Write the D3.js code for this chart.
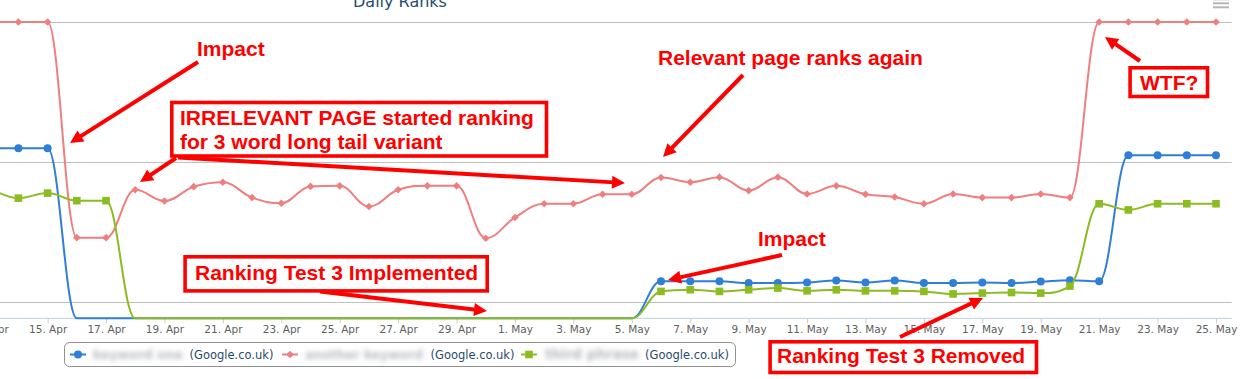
<!DOCTYPE html>
<html>
<head>
<meta charset="utf-8">
<script src="https://cdn.jsdelivr.net/npm/d3@7"></script>
<style>
  html, body { margin: 0; padding: 0; background: #ffffff; }
  svg { display: block; }
</style>
</head>
<body>
<svg id="chart" width="1241" height="379"></svg>
<script>
// ---------------- DATA ----------------
const days = [
  "2014-04-13","2014-04-14","2014-04-15","2014-04-16","2014-04-17","2014-04-18","2014-04-19",
  "2014-04-20","2014-04-21","2014-04-22","2014-04-23","2014-04-24","2014-04-25","2014-04-26",
  "2014-04-27","2014-04-28","2014-04-29","2014-04-30","2014-05-01","2014-05-02","2014-05-03",
  "2014-05-04","2014-05-05","2014-05-06","2014-05-07","2014-05-08","2014-05-09","2014-05-10",
  "2014-05-11","2014-05-12","2014-05-13","2014-05-14","2014-05-15","2014-05-16","2014-05-17",
  "2014-05-18","2014-05-19","2014-05-20","2014-05-21","2014-05-22","2014-05-23","2014-05-24",
  "2014-05-25"
];
// rank-position values (top of chart = 0, bottom of chart = not ranking)
const NR = 105.8;
const blueValues = [
  45.1, 45.1, 45.1, NR, NR, NR, NR, NR, NR, NR, NR, NR, NR, NR, NR, NR, NR, NR, NR, NR, NR, NR, NR,
  92.6, 92.6, 92.6, 93.2, 93.2, 93.0, 92.3, 93.0, 92.3, 93.2, 93.2, 93.0, 93.2, 92.7, 92.2, 92.6,
  47.6, 47.6, 47.6, 47.6
];
const redValues = [
  0, 0, 0, 77.0, 77.0, 59.9, 63.9, 58.8, 57.2, 62.7, 64.7, 58.7, 58.5, 65.9, 59.9, 58.5, 58.5, 77.2,
  69.8, 64.9, 64.9, 61.5, 61.5, 55.5, 57.2, 55.4, 60.2, 55.4, 61.4, 58.5, 61.5, 62.5, 64.9, 61.4,
  62.7, 62.7, 61.4, 62.7, 0, 0, 0, 0, 0
];
const greenValues = [
  59.2, 62.9, 61.1, 63.8, 63.8, NR, NR, NR, NR, NR, NR, NR, NR, NR, NR, NR, NR, NR, NR, NR, NR, NR, NR,
  96.2, 95.6, 96.2, 95.6, 95.0, 96.0, 95.6, 96.0, 96.0, 96.2, 97.1, 96.8, 96.6, 96.8, 94.3, 64.9,
  67.1, 64.9, 64.9, 64.9
];
const seriesNames = ["keyword one", "another keyword", "third phrase"];
const seriesSuffix = "(Google.co.uk)";
const gridValues = [0, 50, 100];
const tickDays = [
  "2014-04-13","2014-04-15","2014-04-17","2014-04-19","2014-04-21","2014-04-23","2014-04-25",
  "2014-04-27","2014-04-29","2014-05-01","2014-05-03","2014-05-05","2014-05-07","2014-05-09",
  "2014-05-11","2014-05-13","2014-05-15","2014-05-17","2014-05-19","2014-05-21","2014-05-23",
  "2014-05-25"
];
const titleText = "Daily Ranks";

// ---------------- LAYOUT ----------------
const W = 1241, H = 379;
const plotLeft = -14, plotRight = 1231.7, plotTop = 22, plotBottom = 318.3;
const parse = d3.utcParse("%Y-%m-%d");
const dates = days.map(parse);
const x = d3.scaleUtc().domain([dates[0], dates[dates.length - 1]]).range([-10.8, 1216]);
const y = d3.scaleLinear().domain([0, NR]).range([plotTop, plotBottom]);

const colors = { blue: "#2f7ed8", red: "#ef7f7f", green: "#8bbc21" };
const RED = "#ff0000";

const svg = d3.select("#chart");
svg.append("rect").attr("width", W).attr("height", H).attr("fill", "#fff");

const defs = svg.append("defs");
defs.append("filter").attr("id", "blur").attr("x", "-10%").attr("y", "-60%").attr("width", "120%").attr("height", "220%")
  .append("feGaussianBlur").attr("stdDeviation", 2.6);

// Title (cropped at top)
svg.append("text").attr("x", 400).attr("y", 7).attr("text-anchor", "middle")
  .attr("font-family", "DejaVu Sans, sans-serif").attr("font-size", 16).attr("fill", "#274b6d")
  .text(titleText);

// Export menu icon
const menu = svg.append("g").attr("stroke", "#b5b5b5").attr("stroke-width", 2);
[-0.7, 3.3, 7.3].forEach(v => menu.append("line").attr("x1", 1213).attr("x2", 1229).attr("y1", v).attr("y2", v));

// Gridlines
svg.append("g").selectAll("line").data(gridValues).join("line")
  .attr("x1", plotLeft).attr("x2", plotRight)
  .attr("y1", d => Math.round(y(d)) + 0.5).attr("y2", d => Math.round(y(d)) + 0.5)
  .attr("stroke", "#c0c0c0").attr("stroke-width", 1);

// X axis
const xAxis = d3.axisBottom(x).tickValues(tickDays.map(parse))
  .tickFormat(d3.utcFormat("%-d. %b")).tickSize(5).tickSizeOuter(0).tickPadding(2);
const gx = svg.append("g").attr("transform", `translate(0,${plotBottom})`).call(xAxis);
gx.select(".domain").remove();
gx.selectAll(".tick line").attr("stroke", "#c0d0e0");
gx.selectAll(".tick text").attr("font-family", "DejaVu Sans, sans-serif").attr("font-size", 10.5).attr("fill", "#606060");
svg.append("line").attr("x1", plotLeft).attr("x2", plotRight)
  .attr("y1", plotBottom).attr("y2", plotBottom).attr("stroke", "#c0d0e0").attr("stroke-width", 1);

// Highcharts-like spline curve for d3.line
function HCSpline(context) { this._context = context; }
HCSpline.prototype = {
  areaStart() {}, areaEnd() {},
  lineStart() { this._p = []; },
  point(px, py) { this._p.push([+px, +py]); },
  lineEnd() {
    const p = this._p, c = this._context, s = 1.5, dn = s + 1, n = p.length;
    if (!n) return;
    const L = [], R = [];
    for (let i = 0; i < n; i++) {
      const [px, py] = p[i];
      if (i > 0 && i < n - 1) {
        const [lx, ly] = p[i - 1], [nx, ny] = p[i + 1];
        const lcx = (s * px + lx) / dn, rcx = (s * px + nx) / dn;
        let lcy = (s * py + ly) / dn, rcy = (s * py + ny) / dn;
        const corr = ((rcy - lcy) * (rcx - px)) / (rcx - lcx) + py - rcy;
        lcy += corr; rcy += corr;
        if (lcy > ly && lcy > py) { lcy = Math.max(ly, py); rcy = 2 * py - lcy; }
        else if (lcy < ly && lcy < py) { lcy = Math.min(ly, py); rcy = 2 * py - lcy; }
        if (rcy > ny && rcy > py) { rcy = Math.max(ny, py); lcy = 2 * py - rcy; }
        else if (rcy < ny && rcy < py) { rcy = Math.min(ny, py); lcy = 2 * py - rcy; }
        L[i] = [lcx, lcy]; R[i] = [rcx, rcy];
      } else { L[i] = [px, py]; R[i] = [px, py]; }
    }
    c.moveTo(p[0][0], p[0][1]);
    for (let i = 1; i < n; i++) c.bezierCurveTo(R[i - 1][0], R[i - 1][1], L[i][0], L[i][1], p[i][0], p[i][1]);
  }
};
const curveHC = ctx => new HCSpline(ctx);

const line = d3.line().x(d => x(d.date)).y(d => y(d.value)).curve(curveHC);
const series = [
  { key: "blue", values: blueValues, marker: "circle" },
  { key: "red", values: redValues, marker: "diamond" },
  { key: "green", values: greenValues, marker: "square" }
];
const symbolPath = {
  circle: d3.symbol().type(d3.symbolCircle).size(Math.PI * 16)(),
  diamond: "M0,-3.8L3.8,0L0,3.8L-3.8,0Z",
  square: "M-3.8,-3.8H3.8V3.8H-3.8Z"
};

const plotG = svg.append("g");
series.forEach(s => {
  const pts = s.values.map((v, i) => ({ date: dates[i], value: v }));
  const g = plotG.append("g");
  g.append("path").attr("d", line(pts)).attr("fill", "none")
    .attr("stroke", colors[s.key]).attr("stroke-width", 2).attr("stroke-linejoin", "round");
  g.selectAll("path.m").data(pts.filter(d => d.value < NR)).join("path").attr("class", "m")
    .attr("d", symbolPath[s.marker])
    .attr("transform", d => `translate(${x(d.date)},${y(d.value)})`)
    .attr("fill", colors[s.key]);
});

// Legend
const lg = svg.append("g");
lg.append("rect").attr("x", 64.5).attr("y", 342.5).attr("width", 671).attr("height", 24).attr("rx", 5)
  .attr("fill", "#fff").attr("stroke", "#909090").attr("stroke-width", 1);
const legendItems = [
  { s: series[0], cx: 78, nameX: 93, nameW: 90, sufX: 189.5 },
  { s: series[1], cx: 290, nameX: 305, nameW: 118, sufX: 430.5 },
  { s: series[2], cx: 529, nameX: 545, nameW: 94, sufX: 645 }
];
legendItems.forEach((it, i) => {
  const cy = 354.5;
  lg.append("line").attr("x1", it.cx - 8).attr("x2", it.cx + 8).attr("y1", cy).attr("y2", cy)
    .attr("stroke", colors[it.s.key]).attr("stroke-width", 2);
  lg.append("path").attr("d", symbolPath[it.s.marker]).attr("transform", `translate(${it.cx},${cy})`)
    .attr("fill", colors[it.s.key]);
  const t = lg.append("text").attr("x", it.nameX).attr("y", 359).attr("font-family", "DejaVu Sans, sans-serif")
    .attr("font-size", 14).attr("font-weight", "bold").attr("fill", "#b4b9c2").attr("filter", "url(#blur)")
    .text(seriesNames[i]);
  // fit the blurred name to its slot
  const w = t.node().getComputedTextLength();
  t.attr("font-size", (14 * it.nameW / w).toFixed(2));
  lg.append("text").attr("x", it.sufX).attr("y", 358.5).attr("font-family", "DejaVu Sans, sans-serif")
    .attr("font-size", 11.5).attr("fill", "#274b6d").text(seriesSuffix);
});

// ---------------- ANNOTATIONS ----------------
const ann = svg.append("g").attr("font-family", "Liberation Sans, Arial, sans-serif")
  .attr("font-weight", "bold").attr("font-size", 21);

function arrow(x1, y1, x2, y2) {
  const dx = x2 - x1, dy = y2 - y1, len = Math.hypot(dx, dy);
  const ux = dx / len, uy = dy / len, hl = 13, hw = 6.5;
  const bx = x2 - ux * hl, by = y2 - uy * hl;
  ann.append("line").attr("x1", x1).attr("y1", y1).attr("x2", bx + ux * 2).attr("y2", by + uy * 2)
    .attr("stroke", RED).attr("stroke-width", 4);
  ann.append("path")
    .attr("d", `M${x2},${y2}L${bx - uy * hw},${by + ux * hw}L${bx + uy * hw},${by - ux * hw}Z`)
    .attr("fill", RED);
}
function box(x0, y0, w, h) {
  ann.append("rect").attr("x", x0).attr("y", y0).attr("width", w).attr("height", h)
    .attr("fill", "#fff").attr("stroke", RED).attr("stroke-width", 3.6);
}
function label(tx, ty, t) {
  ann.append("text").attr("x", tx).attr("y", ty).attr("fill", RED).text(t);
}

// Impact (left)
label(197, 56, "Impact");
arrow(198, 62, 70, 143);
// Irrelevant page box
box(171.8, 102.5, 374.7, 53.5);
label(180, 125, "IRRELEVANT PAGE started ranking");
label(180, 149, "for 3 word long tail variant");
arrow(176, 158, 140, 182);
arrow(178, 157.5, 625, 183);
// Relevant page ranks again
label(658, 65, "Relevant page ranks again");
arrow(743, 75, 663, 157);
// Impact (right)
label(758, 246, "Impact");
arrow(782, 255, 668, 280);
// Ranking Test 3 Implemented
box(185.1, 256.8, 302.1, 34.1);
label(195, 279.5, "Ranking Test 3 Implemented");
arrow(320, 291.5, 487, 311);
// Ranking Test 3 Removed
arrow(900, 337, 983, 298);
box(770.1, 341.8, 266.4, 30.7);
label(777, 363, "Ranking Test 3 Removed");
// WTF?
box(1130.1, 67.8, 77.4, 28.7);
label(1140, 90, "WTF?");
arrow(1140, 61, 1105, 37);
</script>
</body>
</html>
